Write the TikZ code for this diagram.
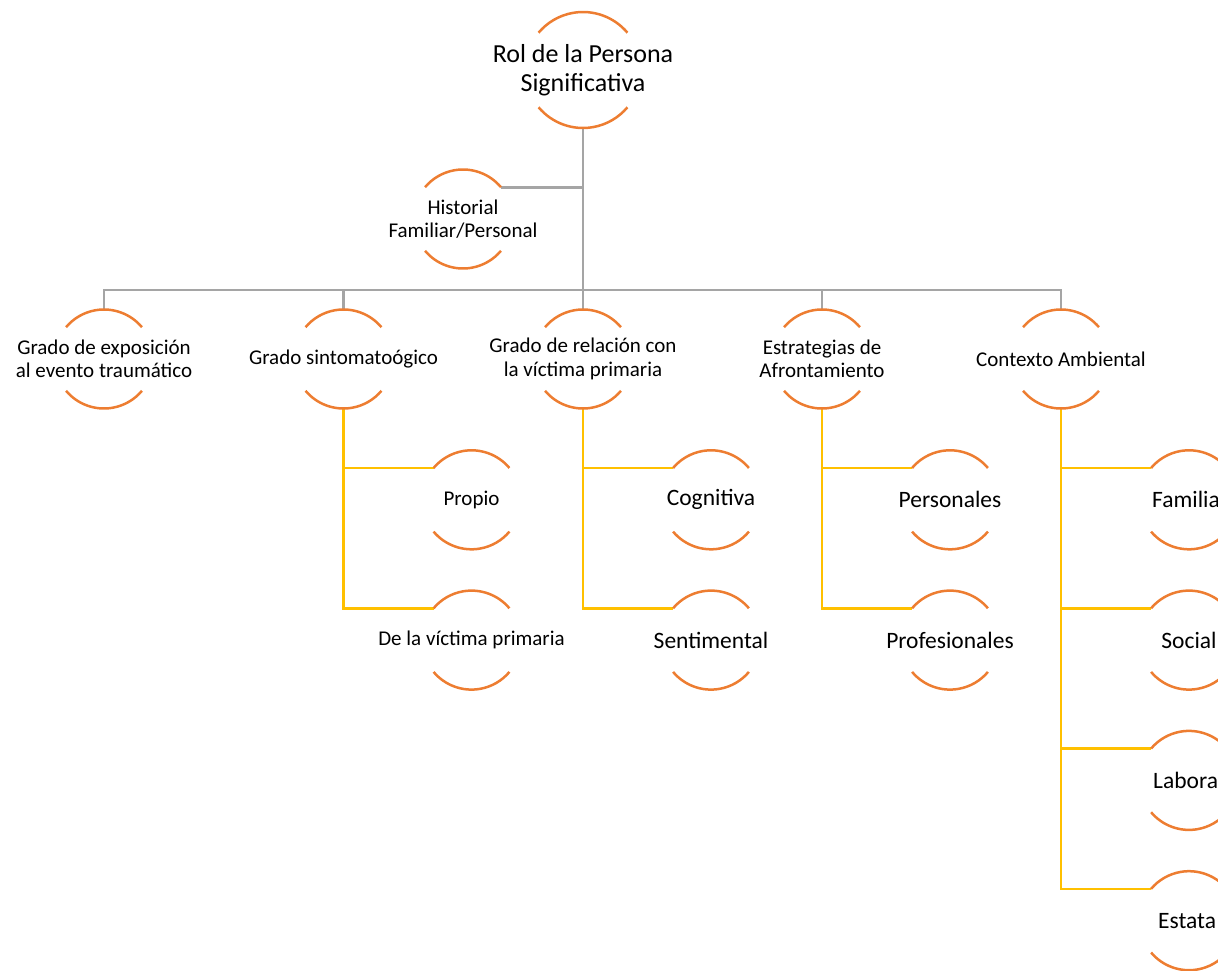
\documentclass[tikz,border=0pt]{standalone}
\usepackage{fontspec}
\setmainfont{Carlito}
\definecolor{orangeC}{HTML}{ED7D31}
\definecolor{grayC}{HTML}{A5A5A5}
\definecolor{yellowC}{HTML}{FFC000}
\newcommand\bubarcs[2]{%
  \draw[arcln] (#1.40) arc[start angle=40,end angle=140,radius=#2];
  \draw[arcln] (#1.220) arc[start angle=220,end angle=320,radius=#2];}
\begin{document}
\begin{tikzpicture}[x=1pt,y=1pt,
  bub/.style={circle,minimum size=99pt,inner sep=0pt,outer sep=0pt},
  bigbub/.style={circle,minimum size=116pt,inner sep=0pt,outer sep=0pt},
  arcln/.style={draw=orangeC,line width=2.5pt},
  grayln/.style={draw=grayC,line width=2.7pt},
  yelln/.style={draw=yellowC,line width=2.7pt},
  txtA/.style={align=center,inner sep=0pt,font=\fontsize{26}{28.5}\selectfont},
  txtB/.style={align=center,inner sep=0pt,font=\fontsize{21}{23.5}\selectfont},
  txtC/.style={align=center,inner sep=0pt,font=\fontsize{23.5}{26}\selectfont},
]
\useasboundingbox (0,0) rectangle (1218,-971);
\clip (0,0) rectangle (1218,-971);

% circles (invisible shapes used for anchors)
\node[bigbub] (top) at (583,-70) {};
\node[bub] (hist) at (463,-219) {};
\node[bub] (g1) at (104,-359) {};
\node[bub] (g2) at (343.5,-359) {};
\node[bub] (g3) at (583,-359) {};
\node[bub] (g4) at (822,-359) {};
\node[bub] (g5) at (1061,-359) {};
\node[bub] (c21) at (471.5,-499.8) {};
\node[bub] (c22) at (471.5,-640.1) {};
\node[bub] (c31) at (711,-499.8) {};
\node[bub] (c32) at (711,-640.1) {};
\node[bub] (c41) at (950,-499.8) {};
\node[bub] (c42) at (950,-640.1) {};
\node[bub] (c51) at (1189,-499.8) {};
\node[bub] (c52) at (1189,-640.1) {};
\node[bub] (c53) at (1189,-780.4) {};
\node[bub] (c54) at (1189,-920.7) {};
\coordinate (bus) at (0,-290);

% gray connectors
\draw[grayln] (top.south) -- (g3.north);
\draw[grayln] (hist.40) -- (hist.40 -| top.south);
\draw[grayln] (g1.north) -- (g1.north |- bus) -- (g5.north |- bus) -- (g5.north);
\draw[grayln] (g2.north) -- (g2.north |- bus);
\draw[grayln] (g4.north) -- (g4.north |- bus);

% yellow connectors
\draw[yelln] (g2.south) |- (c22.140);
\draw[yelln] (g2.south |- c21.140) -- (c21.140);
\draw[yelln] (g3.south) |- (c32.140);
\draw[yelln] (g3.south |- c31.140) -- (c31.140);
\draw[yelln] (g4.south) |- (c42.140);
\draw[yelln] (g4.south |- c41.140) -- (c41.140);
\draw[yelln] (g5.south) |- (c54.140);
\draw[yelln] (g5.south |- c51.140) -- (c51.140);
\draw[yelln] (g5.south |- c52.140) -- (c52.140);
\draw[yelln] (g5.south |- c53.140) -- (c53.140);

% arcs
\bubarcs{top}{58}
\foreach \n in {hist,g1,g2,g3,g4,g5,c21,c22,c31,c32,c41,c42,c51,c52,c53,c54}{\bubarcs{\n}{49.5}}

% texts
\node[txtA] (ttop) at (top) {Rol de la Persona\\Significativa};
\node[txtB] (thist) at (hist) {Historial\\Familiar/Personal};
\node[txtB] (tg1) at (g1) {Grado de exposición\\al evento traumático};
\node[txtB] (tg2) at (g2) {Grado sintomatoógico};
\node[txtB] (tg3) at (g3) {Grado de relación con\\la víctima primaria};
\node[txtB] (tg4) at (g4) {Estrategias de\\Afrontamiento};
\node[txtB] (tg5) at (g5) {Contexto Ambiental};
\node[txtB] (tc21) at (c21) {Propio};
\node[txtB] (tc22) at (c22) {De la víctima primaria};
\node[txtC] (tc31) at (c31) {Cognitiva};
\node[txtC] (tc32) at (c32) {Sentimental};
\node[txtC] (tc41) at (c41) {Personales};
\node[txtC] (tc42) at (c42) {Profesionales};
\node[txtC,anchor=west] (tc51) at (1152,-499.8) {Familia};
\node[txtC] (tc52) at (c52) {Social};
\node[txtC,anchor=west] (tc53) at (1153,-780.4) {Labora};
\node[txtC,anchor=west] (tc54) at (1158,-920.7) {Estata};
\end{tikzpicture}
\end{document}
